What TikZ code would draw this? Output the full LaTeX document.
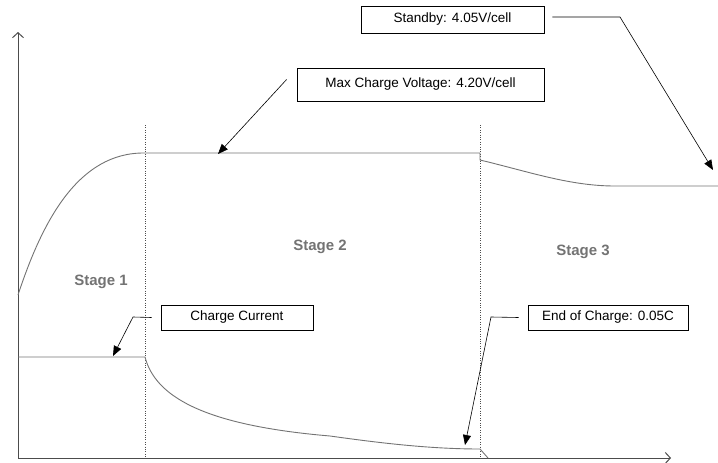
\documentclass[tikz,border=0pt]{standalone}
\usepackage{fontspec}
\setmainfont{Liberation Sans}
\usetikzlibrary{arrows.meta,positioning,calc}

\begin{document}
\begin{tikzpicture}[x=1pt,y=-1pt,
	lbl/.style={draw,line width=0.8pt,inner sep=0pt,font=\fontsize{13.5}{16}\selectfont},
	stage/.style={text=black!55,font=\fontsize{15}{18}\selectfont\bfseries},
	curve/.style={black!55,line width=0.9pt},
	pointer/.style={-{Triangle[length=10pt,width=8pt]},line width=0.6pt},
	axis/.style={black!70,line width=1pt,-{Straight Barb[length=5pt,width=11pt]}}]
	
	\useasboundingbox (0,0) rectangle (718,463);
	
	% Axes
	\coordinate (o) at (18,458);
	\draw[axis] (o) -- (18,32);
	\draw[axis] (o) -- (671,458);
	
	% Stage borders
	\draw[dotted,black!70] (145,125) -- (145,458);
	\draw[dotted,black!70] (480,125) -- (480,458);
	
	% Voltage curve
	\draw[curve]
	(18,295)
	.. controls (42,222) and (78,152)
	.. (145,153)
	-- (480,153)
	-- (480,160)
	.. controls (530,172) and (570,186)
	.. (615,186)
	-- (718,186);
	
	% Current curve
	\draw[curve]
	(18,357) -- (145,357)
	.. controls (155,395) and (200,425)
	.. (330,436)
	.. controls (380,443) and (430,449)
	.. (480,449)
	-- (488,458);
	
	% Stages
	\node[stage] (s1) at (101,282) {Stage 1};
	\node[stage] (s2) at (320,247) {Stage 2};
	\node[stage] (s3) at (583,252) {Stage 3};
	
	% Labels
	\node[lbl,minimum width=183pt,minimum height=27pt] (standby) at (452.5,19.5) {Standby: 4.05V/cell};
	\node[lbl,minimum width=247pt,minimum height=33pt] (maxv) at (420.5,84.5) {Max Charge Voltage: 4.20V/cell};
	\node[lbl,minimum width=152pt,minimum height=25pt] (chgcur) at (237,317.5) {Charge Current};
	\node[lbl,minimum width=160pt,minimum height=25pt] (endchg) at (608,317.5) {End of Charge: 0.05C};
	
	\coordinate (sbknee) at (620,17);
	\coordinate (sbtip) at (713,170);
	\coordinate (mvtip) at (218,154);
	\coordinate (ccknee) at (133,317);
	\coordinate (cctip) at (113,356);
	\coordinate (ecknee) at (491,317);
	\coordinate (ectip) at (465,445);
	
	\draw[pointer] ([xshift=8pt,yshift=2.5pt]standby.east) -- (sbknee) -- (sbtip);
	\draw[pointer] ([xshift=-10pt,yshift=5pt]maxv.west) -- (mvtip);
	\draw[pointer] ([xshift=-9pt]chgcur.west) -- (ccknee) -- (cctip);
	\draw[pointer] ([xshift=-9pt]endchg.west) -- (ecknee) -- (ectip);
	
\end{tikzpicture}
\end{document}
